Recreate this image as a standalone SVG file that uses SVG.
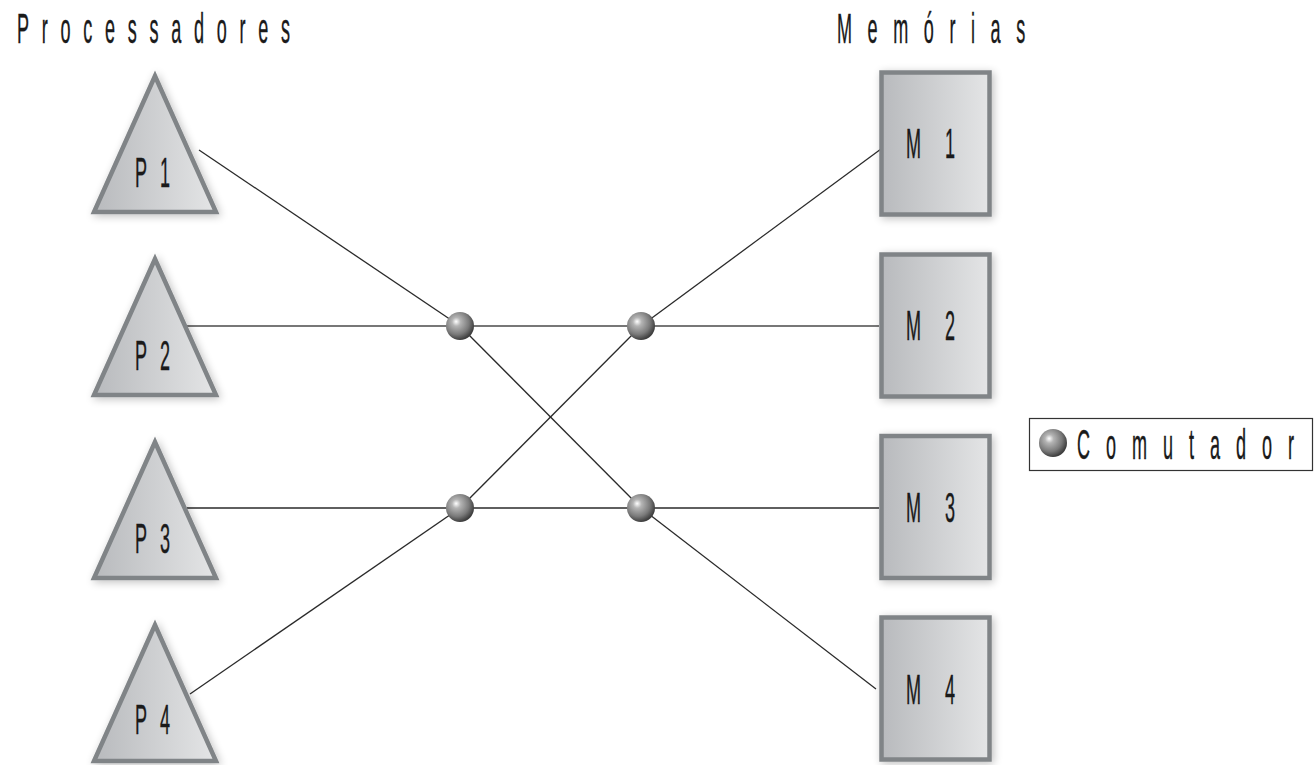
<svg xmlns="http://www.w3.org/2000/svg" xmlns:xlink="http://www.w3.org/1999/xlink" width="1314" height="765" viewBox="0 0 1314 765">
<defs>
<linearGradient id="shapeFill" x1="0" y1="0" x2="1" y2="0">
<stop offset="0" stop-color="#b8babd"/>
<stop offset="1" stop-color="#e4e5e6"/>
</linearGradient>
<radialGradient id="ball" cx="0.4" cy="0.38" r="0.62" fx="0.36" fy="0.34">
<stop offset="0" stop-color="#ffffff"/>
<stop offset="0.25" stop-color="#b4b4b4"/>
<stop offset="0.7" stop-color="#7a7a7a"/>
<stop offset="1" stop-color="#3e3e3e"/>
</radialGradient>
<filter id="shadow" x="-20%" y="-20%" width="140%" height="140%">
<feGaussianBlur in="SourceAlpha" stdDeviation="4"/>
<feOffset dx="2" dy="2" result="b"/>
<feComponentTransfer><feFuncA type="linear" slope="0.25"/></feComponentTransfer>
<feMerge><feMergeNode/><feMergeNode in="SourceGraphic"/></feMerge>
</filter>
<path id="tri" d="M155,76 L94,212 L216,212 Z"/>
<circle id="sw" r="14" fill="url(#ball)"/>
</defs>
<style>
.shape{fill:url(#shapeFill);stroke:#808487;stroke-width:4.5;stroke-linejoin:miter;filter:url(#shadow)}
.lbl{font-family:"Liberation Sans",Arial,sans-serif;font-size:42px;fill:#1a1a1a;stroke:#1a1a1a;stroke-width:0.4}
.wire{stroke:#2a2a2a;stroke-width:1.3;fill:none}
.hw{stroke:#4a4a4a;stroke-width:1.5;fill:none}
</style>
<rect width="1314" height="765" fill="#ffffff"/>

<g id="titles">
<text class="lbl" transform="translate(17,43) scale(0.43,1)" letter-spacing="29.6">Processadores</text>
<text class="lbl" transform="translate(837,43) scale(0.43,1)" letter-spacing="36.2">Memórias</text>
</g>

<g id="connectors">
<line class="wire" x1="199" y1="150" x2="460" y2="326"/>
<line class="hw" x1="187" y1="326" x2="879" y2="326"/>
<line class="wire" x1="187" y1="508" x2="879" y2="508"/>
<line class="wire" x1="190" y1="694" x2="460" y2="508"/>
<line class="wire" x1="460" y1="326" x2="641" y2="508"/>
<line class="wire" x1="460" y1="508" x2="641" y2="326"/>
<line class="wire" x1="641" y1="326" x2="881" y2="149"/>
<line class="wire" x1="641" y1="508" x2="876" y2="689"/>
</g>

<g id="P1"><use xlink:href="#tri" class="shape"/><text class="lbl" transform="translate(135,187) scale(0.43,1)">P <tspan x="58.2">1</tspan></text></g>
<g id="P2"><use xlink:href="#tri" class="shape" transform="translate(0,183)"/><text class="lbl" transform="translate(135,370) scale(0.43,1)">P <tspan x="58.2">2</tspan></text></g>
<g id="P3"><use xlink:href="#tri" class="shape" transform="translate(0,366)"/><text class="lbl" transform="translate(135,553) scale(0.43,1)">P <tspan x="58.2">3</tspan></text></g>
<g id="P4"><use xlink:href="#tri" class="shape" transform="translate(0,549)"/><text class="lbl" transform="translate(135,734) scale(0.43,1)">P <tspan x="58.2">4</tspan></text></g>

<g id="M1"><rect class="shape" x="881.5" y="72.5" width="108" height="142"/><text class="lbl" transform="translate(906,158) scale(0.43,1)">M <tspan x="90.7">1</tspan></text></g>
<g id="M2"><rect class="shape" x="881.5" y="254.5" width="108" height="142"/><text class="lbl" transform="translate(906,340) scale(0.43,1)">M <tspan x="90.7">2</tspan></text></g>
<g id="M3"><rect class="shape" x="881.5" y="436" width="108" height="142"/><text class="lbl" transform="translate(906,522) scale(0.43,1)">M <tspan x="90.7">3</tspan></text></g>
<g id="M4"><rect class="shape" x="881.5" y="617.5" width="108" height="142"/><text class="lbl" transform="translate(906,704) scale(0.43,1)">M <tspan x="90.7">4</tspan></text></g>

<g id="S1"><use xlink:href="#sw" x="460" y="326"/></g>
<g id="S2"><use xlink:href="#sw" x="641" y="326"/></g>
<g id="S3"><use xlink:href="#sw" x="460" y="508"/></g>
<g id="S4"><use xlink:href="#sw" x="641" y="508"/></g>

<g id="legend">
<rect x="1029.5" y="418.5" width="283" height="52" fill="#ffffff" stroke="#333333" stroke-width="1.2"/>
<use xlink:href="#sw" x="1053" y="443"/>
<text class="lbl" transform="translate(1077,459) scale(0.43,1)" letter-spacing="37.1">Comutador</text>
</g>
</svg>
